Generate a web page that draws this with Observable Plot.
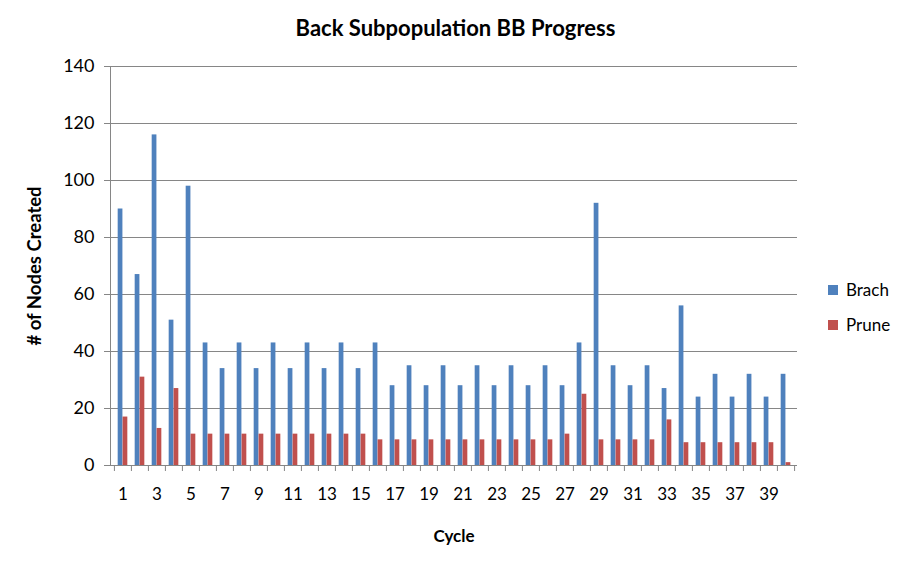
<!DOCTYPE html>
<html><head><meta charset="utf-8">
<script src="https://cdn.jsdelivr.net/npm/d3@7"></script>
<script src="https://cdn.jsdelivr.net/npm/@observablehq/plot@0.6"></script>
<style>
body{margin:0;background:#fff;font-family:Lato,"Open Sans",sans-serif;}
#wrap{position:relative;width:909px;height:570px;}
.leg{position:absolute;left:828px;font-size:17px;color:#000;display:flex;align-items:center;}
.sw{width:10px;height:10px;margin-right:8px;display:inline-block;}
</style></head>
<body><div id="wrap"></div>
<script>
const cycles = [1,2,3,4,5,6,7,8,9,10,11,12,13,14,15,16,17,18,19,20,21,22,23,24,25,26,27,28,29,30,31,32,33,34,35,36,37,38,39,40];
const brach = [90,67,116,51,98,43,34,43,34,43,34,43,34,43,34,43,28,35,28,35,28,35,28,35,28,35,28,43,92,35,28,35,27,56,24,32,24,32,24,32];
const prune = [17,31,13,27,11,11,11,11,11,11,11,11,11,11,11,9,9,9,9,9,9,9,9,9,9,9,11,25,9,9,9,9,16,8,8,8,8,8,8,1];
const yTicks = [0,20,40,60,80,100,120,140];
const xTickLabels = [1,3,5,7,9,11,13,15,17,19,21,23,25,27,29,31,33,35,37,39];
const seriesNames = ["Brach","Prune"];
const colors = ["#4F81BD","#C0504D"];
const titleText = "Back Subpopulation BB Progress";
const xLabel = "Cycle";
const yLabel = "# of Nodes Created";

const W=909,H=570,mL=110,mR=112,mT=66,mB=105;
const step=(W-mL-mR)/cycles.length;
const barW=step/3.5;
const grid="#868686";
const font="Lato, 'Open Sans', sans-serif";

const chart = Plot.plot({
  width:W,height:H,marginLeft:mL,marginRight:mR,marginTop:mT,marginBottom:mB,
  style:{fontFamily:font,color:"#000",background:"#fff"},
  x:{type:"band",domain:cycles,padding:0},
  y:{domain:[0,140]},
  marks:[
    Plot.gridY(yTicks,{stroke:grid,strokeOpacity:1}),
    Plot.barY(cycles,{x:d=>d,y:(d,i)=>brach[i],fill:colors[0],insetLeft:step/2-barW,insetRight:step/2}),
    Plot.barY(cycles,{x:d=>d,y:(d,i)=>prune[i],fill:colors[1],insetLeft:step/2,insetRight:step/2-barW}),
    Plot.ruleY([0],{stroke:grid}),
    Plot.frame({anchor:"left",stroke:grid}),
    Plot.axisY(yTicks,{tickSize:6,tickPadding:10,fontSize:18,stroke:grid,label:null}),
    Plot.axisX(cycles,{tickSize:6,dx:-step/2,tickFormat:()=>"",stroke:grid,label:null}),
    Plot.axisX([cycles[cycles.length-1]],{tickSize:6,dx:step/2,tickFormat:()=>"",stroke:grid,label:null}),
    Plot.axisX(xTickLabels,{tickSize:0,tickPadding:22,fontSize:17,label:null}),
    Plot.text([titleText],{frameAnchor:"top",lineAnchor:"middle",dy:-38,dx:1.5,fontSize:22,fontWeight:"bold"}),
    Plot.text([xLabel],{frameAnchor:"bottom",lineAnchor:"middle",dy:71,fontSize:17,fontWeight:"bold"}),
    Plot.text([yLabel],{frameAnchor:"left",textAnchor:"middle",lineAnchor:"middle",dx:-75,rotate:-90,fontSize:18.5,fontWeight:"bold"})
  ]
});
const wrap=document.getElementById("wrap");
wrap.appendChild(chart);
seriesNames.forEach((s,i)=>{
  const d=document.createElement("div");
  d.className="leg";
  d.style.top=(279+i*35)+"px";
  d.innerHTML=`<span class="sw" style="background:${colors[i]}"></span>${s}`;
  wrap.appendChild(d);
});
</script>
</body></html>
